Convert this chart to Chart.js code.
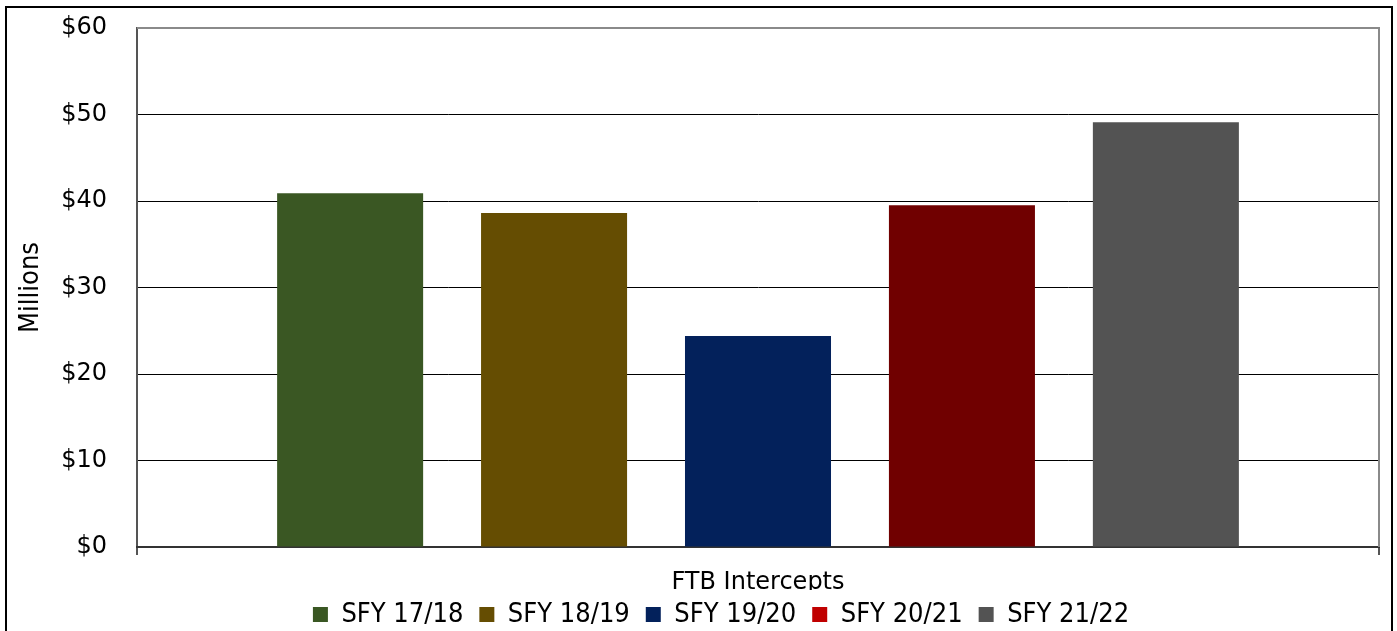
<!DOCTYPE html>
<html>
<head>
<meta charset="utf-8">
<script src="https://cdn.jsdelivr.net/npm/chart.js@4.4.1/dist/chart.umd.min.js"></script>
<style>
  html, body { margin: 0; padding: 0; background: #fff; overflow: hidden; }
  #frame {
    position: absolute; left: 5px; top: 6px; width: 1388px; height: 660px;
    border: 2px solid #000; box-sizing: border-box; pointer-events: none;
  }
  #chart { position: absolute; left: 0; top: 0; }
</style>
</head>
<body>
<canvas id="chart" width="1397" height="631"></canvas>
<div id="frame"></div>
<script>
// Chart data
const categories = ["FTB Intercepts"];
const seriesNames = ["SFY 17/18", "SFY 18/19", "SFY 19/20", "SFY 20/21", "SFY 21/22"];
const seriesValues = [40.9, 38.6, 24.4, 39.5, 49.1]; // millions
const yTicks = [0, 10, 20, 30, 40, 50, 60];

// Styles
const barColors = ["#3a5723", "#654d02", "#03215b", "#700000", "#535353"];
const legendColors = ["#3a5723", "#654d02", "#03215b", "#c00000", "#535353"];
const FONT = "'DejaVu Sans', sans-serif";
const NARROW = "'DejaVu Sans Condensed', 'DejaVu Sans', sans-serif";

// Gray border along the top and right of the plot area
const plotBorder = {
  id: "plotBorder",
  afterDatasetsDraw(chart) {
    const { ctx, chartArea } = chart;
    ctx.save();
    ctx.strokeStyle = "#8a8a8a";
    ctx.lineWidth = 2;
    ctx.beginPath();
    ctx.moveTo(chartArea.left, chartArea.top);
    ctx.lineTo(chartArea.right, chartArea.top);
    ctx.lineTo(chartArea.right, chartArea.bottom);
    ctx.stroke();
    ctx.restore();
  },
};

// Pull the legend up so it sits over the bottom of the category label
const legendLift = {
  id: "legendLift",
  afterLayout(chart) {
    const legend = chart.legend;
    if (!legend) return;
    legend.top -= 5;
    legend.bottom -= 5;
  },
};

const ctx = document.getElementById("chart").getContext("2d");
new Chart(ctx, {
  type: "bar",
  data: {
    labels: categories,
    datasets: seriesNames.map((name, i) => ({
      label: name,
      data: [seriesValues[i]],
      backgroundColor: barColors[i],
      borderWidth: 0,
      categoryPercentage: 0.821,
      barPercentage: 0.716,
    })),
  },
  options: {
    responsive: false,
    animation: false,
    // extra left padding shifts the centred legend to the right, like the original
    layout: { padding: { top: 28, right: 18, left: 63, bottom: -12 } },
    scales: {
      y: {
        min: yTicks[0],
        max: yTicks[yTicks.length - 1],
        afterBuildTicks: (scale) => {
          scale.ticks = yTicks.map((v) => ({ value: v }));
        },
        afterFit: (scale) => {
          scale.width = 74;
          scale.paddingTop = 0;
          scale.paddingBottom = 0;
        },
        ticks: {
          callback: (v) => "$" + v,
          color: "#000",
          font: { family: FONT, size: 24 },
          padding: 30,
        },
        grid: { color: "#000", lineWidth: 1, drawTicks: false },
        border: { display: true, color: "#555", width: 2 },
        title: {
          display: true,
          text: "Millions",
          color: "#000",
          font: { family: NARROW, size: 27 },
          padding: { top: -48, bottom: 0 },
        },
      },
      x: {
        afterFit: (scale) => {
          scale.height = 43;
        },
        ticks: {
          color: "#000",
          font: { family: FONT, size: 24 },
          padding: 13,
        },
        grid: { display: true, drawOnChartArea: false, tickLength: 8, color: "#555", lineWidth: 2 },
        border: { display: true, color: "#333", width: 2 },
      },
    },
    plugins: {
      tooltip: { enabled: false },
      legend: {
        position: "bottom",
        labels: {
          color: "#000",
          font: { family: NARROW, size: 27 },
          boxWidth: 15,
          boxHeight: 15,
          padding: 16,
          generateLabels: (chart) => {
            const items = Chart.defaults.plugins.legend.labels.generateLabels(chart);
            items.forEach((item, i) => {
              item.fillStyle = legendColors[i];
              item.strokeStyle = legendColors[i];
              item.lineWidth = 0;
            });
            return items;
          },
        },
      },
    },
  },
  plugins: [plotBorder, legendLift],
});
</script>
</body>
</html>
